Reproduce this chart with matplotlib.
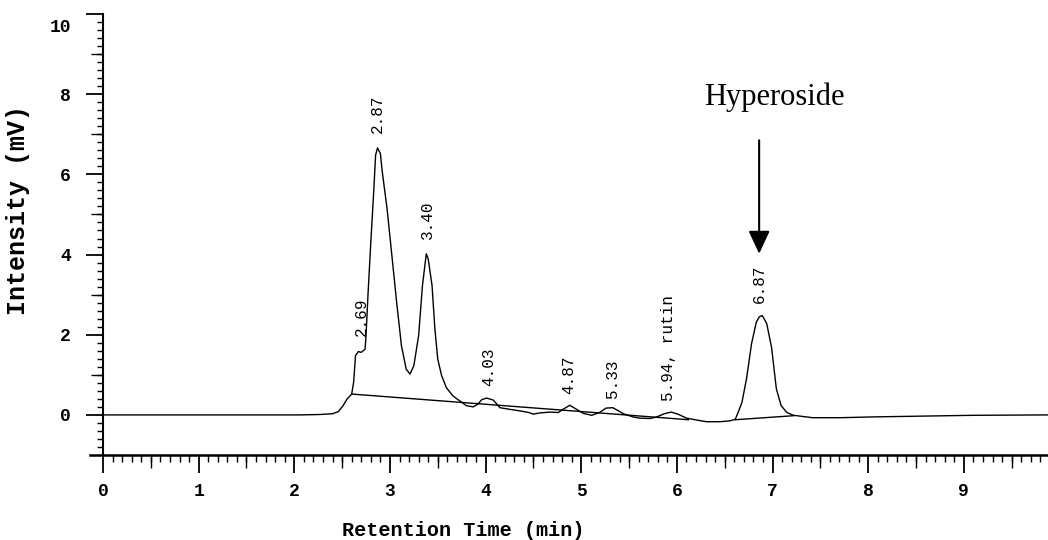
import numpy as np
import matplotlib
matplotlib.use("Agg")
import matplotlib.pyplot as plt
from matplotlib.transforms import ScaledTranslation

# ---- data ----
time_min = [0.00, 1.00, 2.06, 2.27, 2.40, 2.46, 2.51, 2.55,
            2.60, 2.62, 2.63, 2.64, 2.67, 2.70, 2.74, 2.75, 2.77, 2.80,
            2.83, 2.85, 2.87, 2.90, 2.92, 2.97, 3.02, 3.07, 3.12, 3.17,
            3.21, 3.25, 3.30, 3.34, 3.38, 3.40, 3.44, 3.47, 3.50, 3.54,
            3.59, 3.66,
            3.73, 3.80, 3.87, 3.92, 3.96, 4.01, 4.08, 4.15, 4.25, 4.36,
            4.45, 4.50, 4.57, 4.67, 4.76, 4.81, 4.88, 4.95, 5.02, 5.11,
            5.19, 5.26, 5.33, 5.39, 5.44, 5.54, 5.61, 5.72, 5.79, 5.87,
            5.94, 6.01, 6.10, 6.21, 6.31, 6.45, 6.55, 6.61, 6.64, 6.68,
            6.73, 6.78, 6.83, 6.86, 6.89, 6.91, 6.94, 6.99, 7.04, 7.09,
            7.15, 7.22, 7.42, 7.70, 8.05, 8.57, 9.10, 9.88]
intensity = [0.00, 0.00, 0.00, 0.01, 0.03, 0.08, 0.23, 0.39,
             0.52, 0.81, 1.14, 1.48, 1.58, 1.56, 1.64, 1.98, 2.98, 4.31,
             5.56, 6.48, 6.66, 6.52, 6.06, 5.14, 3.98, 2.81, 1.73, 1.14,
             1.02, 1.23, 1.98, 3.23, 4.02, 3.89, 3.23, 2.14, 1.39, 0.98,
             0.68, 0.47,
             0.35, 0.23, 0.20, 0.27, 0.38, 0.42, 0.37, 0.18, 0.14, 0.10,
             0.06, 0.02, 0.05, 0.07, 0.06, 0.14, 0.24, 0.14, 0.04, -0.01,
             0.06, 0.17, 0.18, 0.10, 0.03, -0.05, -0.08, -0.09, -0.05, 0.03,
             0.07, 0.02, -0.08, -0.13, -0.17, -0.17, -0.15, -0.11, 0.06, 0.31,
             0.93, 1.77, 2.31, 2.44, 2.48, 2.41, 2.27, 1.68, 0.65, 0.23,
             0.06, -0.01, -0.07, -0.07, -0.05, -0.03, -0.01, 0.00]

baseline_x = [[2.60, 6.12], [6.61, 7.22]]
baseline_y = [[0.52, -0.12], [-0.12, -0.02]]

peak_labels = ['2.69', '2.87', '3.40', '4.03', '4.87', '5.33', '5.94, rutin', '6.87']
peak_label_x = [2.70, 2.87, 3.39, 4.03, 4.87, 5.33, 5.91, 6.86]
peak_label_y = [1.98, 7.02, 4.39, 0.73, 0.52, 0.43, 0.35, 2.78]

x_major = [0, 1, 2, 3, 4, 5, 6, 7, 8, 9]
y_major = [0, 2, 4, 6, 8, 10]
y_medium = [1, 3, 5, 7, 9]
x_medium = [0.5, 1.5, 2.5, 3.5, 4.5, 5.5, 6.5, 7.5, 8.5, 9.5]

annot_text = 'Hyperoside'
annot_xy = (7.02, 7.72)
arrow_start = (6.86, 6.85)
arrow_end = (6.86, 4.02)

XMIN, XMAX = -0.136, 9.88
YMIN, YMAX = -1.0, 10.0

mono = 'Liberation Mono'

fig = plt.figure(figsize=(10.48, 5.40), dpi=100)
ax = fig.add_axes([90/1048, 85/540, 958/1048, 441/540])

ax.plot(time_min, intensity, color='black', lw=1.0, solid_joinstyle='round')
for bx, by in zip(baseline_x, baseline_y):
    ax.plot(bx, by, color='black', lw=1.0)

for t, px, py in zip(peak_labels, peak_label_x, peak_label_y):
    ax.text(px, py, t, rotation=90, ha='center', va='bottom',
            fontsize=11.5, family=mono)

ax.text(annot_xy[0], annot_xy[1], annot_text, ha='center', va='baseline',
        fontsize=22, family='Liberation Serif')
ax.annotate('', xy=arrow_end, xytext=arrow_start,
            arrowprops=dict(arrowstyle='-|>,head_length=14,head_width=6.5',
                            mutation_scale=1, lw=1.5, color='black',
                            shrinkA=0, shrinkB=0))

ax.set_xlim(XMIN, XMAX)
ax.set_ylim(YMIN, YMAX)

for s in ['top', 'right']:
    ax.spines[s].set_visible(False)
ax.spines['left'].set_position(('data', 0))
ax.spines['left'].set_linewidth(1.5)
ax.spines['bottom'].set_linewidth(1.8)

ax.set_xticks(x_major)
ax.set_xticklabels([str(v) for v in x_major])
ax.set_xticks(np.round(np.arange(0, 9.85, 0.1), 2), minor=True)
ax.set_yticks(y_major)
ax.set_yticklabels([str(v) for v in y_major])
ax.set_yticks(np.round(np.arange(-0.8, 10.0, 0.2), 2), minor=True)

ax.tick_params(axis='x', which='major', direction='out', length=13, width=1.3, pad=7)
ax.tick_params(axis='x', which='minor', direction='out', length=5, width=1.0)
ax.tick_params(axis='y', which='major', direction='out', length=12.2, width=1.3, pad=11)
ax.tick_params(axis='y', which='minor', direction='out', length=4.3, width=1.0)

for lab in ax.get_xticklabels() + ax.get_yticklabels():
    lab.set_fontfamily(mono)
    lab.set_fontweight('bold')
    lab.set_fontsize(13)

# top "10" label sits a little lower than its tick
top_lab = ax.get_yticklabels()[-1]
top_lab.set_transform(top_lab.get_transform() + ScaledTranslation(0, -11/100, fig.dpi_scale_trans))

secx = ax.secondary_xaxis('bottom')
secx.set_xticks(x_medium)
secx.tick_params(axis='x', which='major', length=9.4, width=1.0, labelbottom=False)
secx.tick_params(axis='x', which='minor', length=0)
secx.spines['bottom'].set_visible(False)

secy = ax.secondary_yaxis(0, transform=ax.transData)
secy.set_yticks(y_medium)
secy.tick_params(axis='y', which='major', length=8.6, width=1.0, labelleft=False)
secy.tick_params(axis='y', which='minor', length=0)
secy.spines['left'].set_visible(False)

ax.set_xlabel('Retention Time (min)', family=mono, fontweight='bold', fontsize=14.5)
ax.xaxis.label.set_va('center')
ax.xaxis.set_label_coords((463-90)/958, (455-530)/441)
ax.set_ylabel('Intensity (mV)', family=mono, fontweight='bold', fontsize=18)
ax.yaxis.label.set_va('center')
ax.yaxis.set_label_coords((18-90)/958, (455-210)/441)

fig.savefig('out.png', dpi=100)
